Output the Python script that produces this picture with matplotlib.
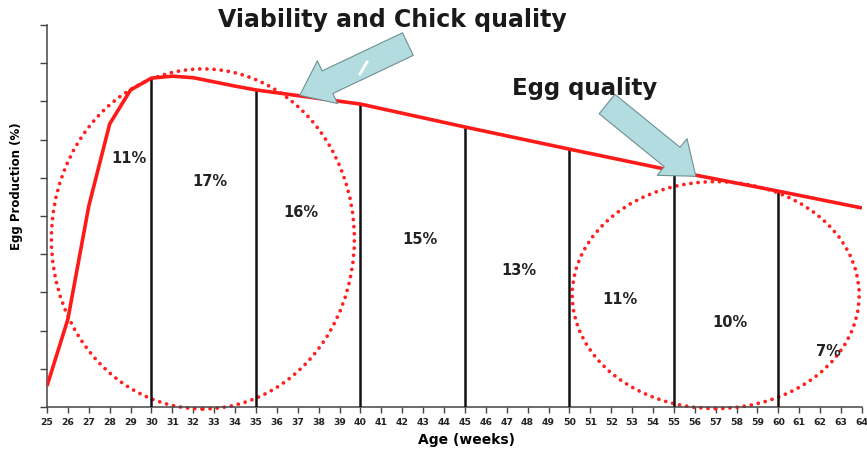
import matplotlib
matplotlib.use('Agg')
import matplotlib.pyplot as plt
from matplotlib.patches import Ellipse, FancyArrowPatch

plt.rcParams['font.family'] = ['DejaVu Sans']

# production curve (% hen-day) by age in weeks
ages = [25, 26, 27, 28, 29, 30, 31, 32, 33, 34, 35, 40, 45, 50, 55, 60, 64]
production = [5.5, 23.0, 52.6, 74.1, 83.0, 86.1, 86.6, 86.2, 85.1, 84.0, 83.0,
              79.3, 73.3, 67.5, 61.8, 56.5, 52.1]

# period boundaries and share of total eggs per period
boundaries = [30, 35, 40, 45, 50, 55, 60]
shares = ['11%', '17%', '16%', '15%', '13%', '11%', '10%', '7%']
share_pos = [(28.9, 65.4), (32.8, 59.2), (37.15, 51.3), (42.85, 44.0),
             (47.6, 36.1), (52.4, 28.3), (57.7, 22.5), (62.4, 14.7)]

week_ticks = list(range(25, 65))


def value_at(age):
    for i in range(len(ages) - 1):
        if ages[i] <= age <= ages[i + 1]:
            t = (age - ages[i]) / (ages[i + 1] - ages[i])
            return production[i] + t * (production[i + 1] - production[i])
    return production[-1]


fig = plt.figure(figsize=(8.67, 4.52), dpi=100)
ax = fig.add_axes([0.0542, 0.0973, 0.94, 0.8452])

ax.plot(ages, production, color='#ff1a1a', lw=2.6, zorder=4, solid_capstyle='butt')

for b in boundaries:
    ax.plot([b, b], [0, value_at(b)], color='#111111', lw=1.8, zorder=3)

for s, (x, y) in zip(shares, share_pos):
    ax.text(x, y, s, ha='center', va='center', fontsize=10.5, fontweight='bold',
            color='#222222')

# dotted circles round the two critical periods
for (cx, cy, w, h) in [(32.46, 44.0, 14.5, 89.0), (57.0, 29.3, 13.73, 59.4)]:
    ring = Ellipse((cx, cy), w, h, fill=False, edgecolor='#ff2020',
                   linestyle=(0, (0.01, 1.9)), lw=2.7, clip_on=False, zorder=2)
    ring.set_capstyle('round')
    ax.add_patch(ring)

# callout arrows
for tail, tip in [((42.27, 95.0), (37.1, 81.6)), ((51.8, 79.3), (56.05, 60.4))]:
    arr = FancyArrowPatch(tail, tip, arrowstyle='simple,head_length=22,head_width=34,tail_width=18',
                          mutation_scale=1, shrinkA=0, shrinkB=0,
                          facecolor='#b2dce0', edgecolor='#6f8f92', lw=0.8,
                          zorder=5, clip_on=False)
    ax.add_patch(arr)
ax.plot([0.4152, 0.4233], [0.8341, 0.8606], transform=fig.transFigure,
        color='white', lw=2, zorder=6)

fig.text(0.452, 0.955, 'Viability and Chick quality', ha='center', va='center',
         fontsize=17, fontweight='bold', color='#1a1a1a')
fig.text(0.6745, 0.805, 'Egg quality', ha='center', va='center',
         fontsize=16.5, fontweight='bold', color='#1a1a1a')

ax.set_xlim(25, 64)
ax.set_ylim(0, 100)
ax.set_xticks(week_ticks)
ax.set_xticklabels([str(w) for w in week_ticks], fontsize=6.7, fontweight='bold',
                   color='#222222')
ax.set_yticks(range(0, 101, 10))
ax.set_yticklabels([])
ax.tick_params(axis='x', length=4, width=1, color='#444444', pad=3)
ax.tick_params(axis='y', length=5, width=1, color='#444444')
for side in ['top', 'right']:
    ax.spines[side].set_visible(False)
for side in ['left', 'bottom']:
    ax.spines[side].set_color('#444444')
    ax.spines[side].set_linewidth(1.1)

ax.set_xlabel('Age (weeks)', fontsize=10, fontweight='bold')
ax.xaxis.set_label_coords(0.515, -0.065)
ax.set_ylabel('Egg Production (%)', fontsize=8.5, fontweight='bold')
ax.yaxis.set_label_coords(-0.03, 0.58)

fig.savefig('out.png', dpi=100)
